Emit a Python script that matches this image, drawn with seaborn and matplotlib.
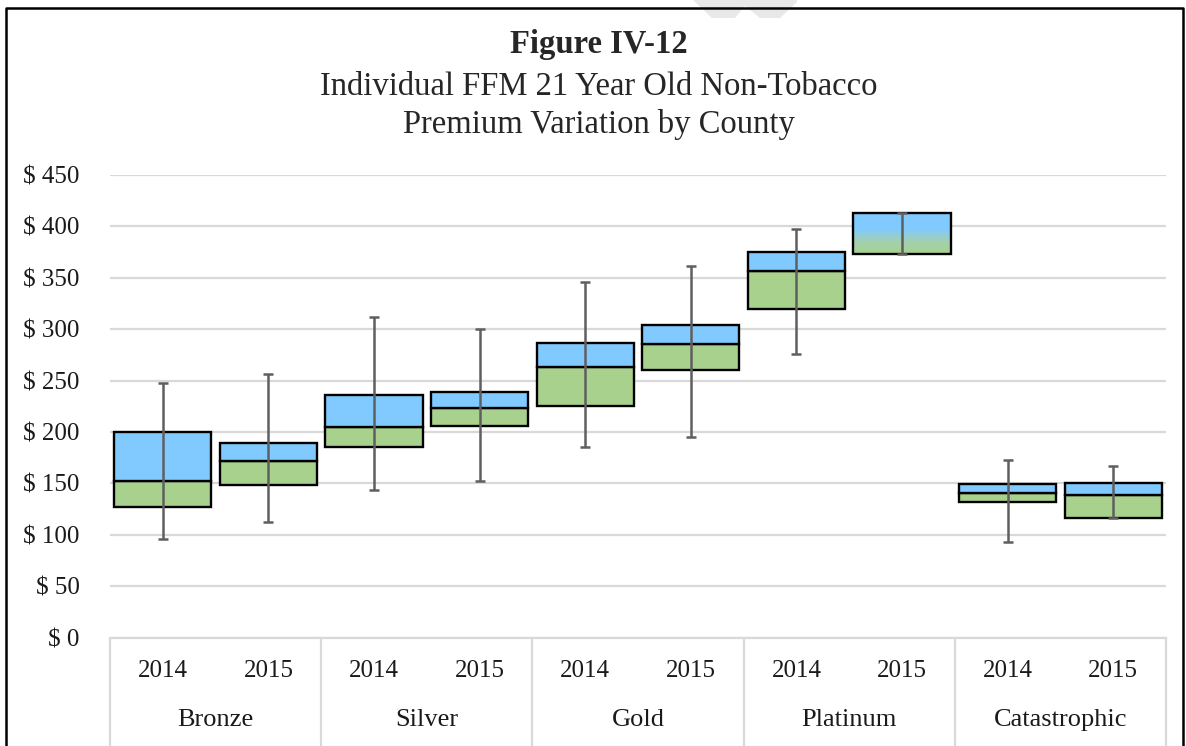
import numpy as np
import matplotlib.pyplot as plt
import seaborn as sns
from matplotlib.lines import Line2D
from matplotlib.patches import Polygon
from matplotlib.colors import LinearSegmentedColormap

# premium spread per metal tier / year
tiers = ['Bronze', 'Silver', 'Gold', 'Platinum', 'Catastrophic']
years = ['2014', '2015']
q1 = [127, 148, 185, 206, 225, 260, 320, 373, 132, 116]
median = [152, 172, 205, 223, 263, 286, 357, None, 141, 139]   # platinum 2015 has no split, just a blend
q3 = [200, 189, 236, 239, 287, 304, 375, 413, 149, 150]
low = [96, 112, 144, 152, 185, 195, 276, 373, 93, 116]
high = [248, 256, 312, 300, 346, 361, 397, 413, 173, 167]
yticks = [0, 50, 100, 150, 200, 250, 300, 350, 400, 450]

blue = '#80caff'
green = '#a9d18e'

sns.set_theme(style='white')
plt.rcParams['font.family'] = ['Liberation Serif', 'DejaVu Serif']

W, H = 1186, 746
fig = plt.figure(figsize=(W / 100, H / 100), dpi=100)
ax = fig.add_axes([110 / W, 1 - 637.5 / H, (1166 - 110) / W, (637.5 - 175) / H])

x = np.arange(len(q1))
bw = 0.92
for i in x:
    if median[i] is None:
        box = ax.bar(i, q3[i] - q1[i], bottom=q1[i], width=bw, facecolor='none',
                     edgecolor='black', linewidth=1.7, zorder=3)[0]
        cmap = LinearSegmentedColormap.from_list('bg', [(0, green), (0.3, '#a3d0b0'), (0.6, blue), (1, blue)])
        grad = np.linspace(0, 1, 100).reshape(-1, 1)
        im = ax.imshow(grad, cmap=cmap, origin='lower', aspect='auto', zorder=2,
                       extent=[i - bw / 2, i + bw / 2, q1[i], q3[i]])
        im.set_clip_path(box)
    else:
        ax.bar(i, median[i] - q1[i], bottom=q1[i], width=bw, color=green,
               edgecolor='black', linewidth=1.7, zorder=2)
        ax.bar(i, q3[i] - median[i], bottom=median[i], width=bw, color=blue,
               edgecolor='black', linewidth=1.7, zorder=2)

lo = np.array(q3) - np.array(low)
hi = np.array(high) - np.array(q3)
ax.errorbar(x, q3, yerr=[lo, hi], fmt='none', ecolor='#5f5f5f', elinewidth=1.8,
            capsize=3.8, capthick=1.8, zorder=4)

ax.set_xlim(-0.5, len(q1) - 0.5)
ax.set_ylim(0, 450)
ax.set_yticks(yticks)
ax.set_yticklabels([f'$ {v}' for v in yticks], fontsize=18, color='#1a1a1a')
ax.tick_params(axis='y', length=0, pad=22)
ax.set_xticks([])
ax.yaxis.grid(True, color='#d9d9d9', linewidth=1.6)
ax.set_axisbelow(True)
for s in ['top', 'right', 'left']:
    ax.spines[s].set_visible(False)
ax.spines['bottom'].set_color('#d9d9d9')
ax.spines['bottom'].set_linewidth(1.6)

# two-level category axis
tr = ax.get_xaxis_transform()
for i in x:
    ax.text(i, -0.072, years[i % 2], transform=tr, ha='center', va='center',
            fontsize=18, color='#1a1a1a')
for g, name in enumerate(tiers):
    ax.text(2 * g + 0.5, -0.178, name, transform=tr, ha='center', va='center',
            fontsize=19, color='#1a1a1a')
for b in np.arange(-0.5, len(q1), 2):
    ax.add_line(Line2D([b, b], [0, -0.25], transform=tr, color='#d9d9d9',
                       linewidth=1.6, clip_on=False))

# titles
fig.text(0.505, 1 - 45 / H, 'Figure IV-12', ha='center', va='center', fontsize=23.5, fontweight='bold')
fig.text(0.505, 1 - 87 / H, 'Individual FFM 21 Year Old Non-Tobacco', ha='center', va='center', fontsize=23.5)
fig.text(0.505, 1 - 125 / H, 'Premium Variation by County', ha='center', va='center', fontsize=23.5)

# page border and faint watermark fragment
pts = [(693, 0), (797, 0), (797, 2), (780, 18), (760, 18), (745, 6), (735, 18), (712, 18)]
fig.patches.append(Polygon([(px / W, 1 - py / H) for px, py in pts], closed=True,
                           transform=fig.transFigure, facecolor='#e8e8e8', edgecolor='none', zorder=0))
border = [(5.5, H + 5), (5.5, 8), (1183, 8), (1183, H + 5)]
fig.lines.append(Line2D([p[0] / W for p in border], [1 - p[1] / H for p in border],
                        transform=fig.transFigure, color='black', linewidth=1.8))

fig.savefig('out.png', dpi=100)
